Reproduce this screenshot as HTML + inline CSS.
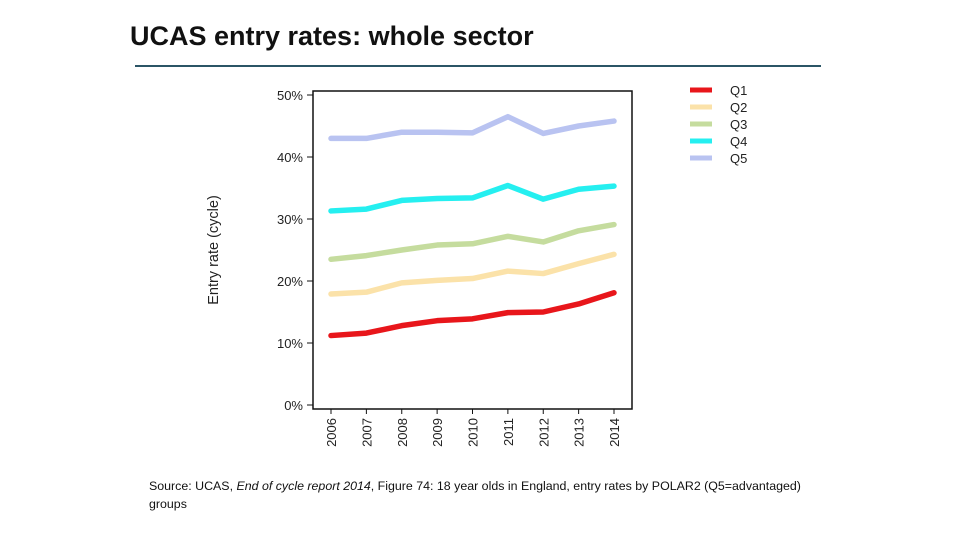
<!DOCTYPE html>
<html><head><meta charset="utf-8"><style>
html,body{margin:0;padding:0;background:#fff;}
body{width:960px;height:540px;position:relative;overflow:hidden;font-family:"Liberation Sans",sans-serif;}
.title{position:absolute;left:130px;top:21px;font-size:27px;font-weight:bold;color:#111;}
.rule{position:absolute;left:135px;top:65px;width:686px;height:2px;background:#2b5566;}
.src{position:absolute;left:149px;top:477px;font-size:12.4px;color:#111;line-height:18px;width:665px;}
svg{position:absolute;left:0;top:0;}
</style></head><body>
<div class="title">UCAS entry rates: whole sector</div>
<div class="rule"></div>
<svg id="chart" width="960" height="540"></svg>
<div class="src">Source: UCAS, <i>End of cycle report 2014</i>, Figure 74: 18 year olds in England, entry rates by POLAR2 (Q5=advantaged) groups</div>
<script>
const years=['2006','2007','2008','2009','2010','2011','2012','2013','2014'];
const yTicks=[0,10,20,30,40,50];
const seriesNames=['Q1','Q2','Q3','Q4','Q5'];
const q1=[11.2,11.6,12.8,13.6,13.9,14.9,15.0,16.3,18.1];
const q2=[17.9,18.2,19.7,20.1,20.4,21.6,21.2,22.8,24.3];
const q3=[23.5,24.1,25.0,25.8,26.0,27.2,26.3,28.1,29.1];
const q4=[31.3,31.6,33.0,33.3,33.4,35.4,33.2,34.8,35.3];
const q5=[43.0,43.0,44.0,44.0,43.9,46.5,43.8,45.0,45.8];
const colors=['#e8161b','#fbe2a9','#c5dc9e','#25eff0','#b9c3f1'];
const allSeries=[q1,q2,q3,q4,q5];
const svg=document.getElementById('chart');
const NS='http://www.w3.org/2000/svg';
const L=313,T=91,R=632,B=409;
const x=i=>331+i*(614-331)/(years.length-1);
const y=v=>405-v*6.2;
function mk(tag,attrs,parent){const e=document.createElementNS(NS,tag);for(const k in attrs)e.setAttribute(k,attrs[k]);(parent||svg).appendChild(e);return e;}
let box=mk('rect',{x:L,y:T,width:R-L,height:B-T,fill:'none',stroke:'#111','stroke-width':1.5});


yTicks.forEach(v=>{
  let t=mk('line',{x1:307,x2:L,y1:y(v),y2:y(v),stroke:'#111','stroke-width':1});
  
  
  let tx=mk('text',{x:303,y:y(v)+5,'text-anchor':'end','font-size':13,fill:'#222'});
  tx.textContent=v+'%';
  
  
});
years.forEach((yr,i)=>{
  let t=mk('line',{x1:x(i),x2:x(i),y1:B,y2:B+5,stroke:'#111','stroke-width':1});
  
  
  let tx=mk('text',{x:0,y:0,'text-anchor':'end','font-size':13,fill:'#222',transform:`translate(${x(i)+5},${B+9}) rotate(-90)`});
  tx.textContent=yr;
  
  
});
let yt=mk('text',{x:0,y:0,'text-anchor':'middle','font-size':14.5,fill:'#222',transform:'translate(218,250) rotate(-90)'});
yt.textContent='Entry rate (cycle)';


allSeries.forEach((s,k)=>{
  let p=mk('polyline',{points:s.map((v,i)=>x(i)+','+y(v)).join(' '),fill:'none',stroke:colors[k],'stroke-width':5.5,'stroke-linejoin':'round','stroke-linecap':'round'});
  
  
  let ly=90+k*17;
  let ll=mk('line',{x1:690,x2:712,y1:ly,y2:ly,stroke:colors[k],'stroke-width':5});
  
  
  let lt=mk('text',{x:730,y:ly+5,'font-size':13,fill:'#222'});
  lt.textContent=seriesNames[k];
  
  
});
</script>
</body></html>
